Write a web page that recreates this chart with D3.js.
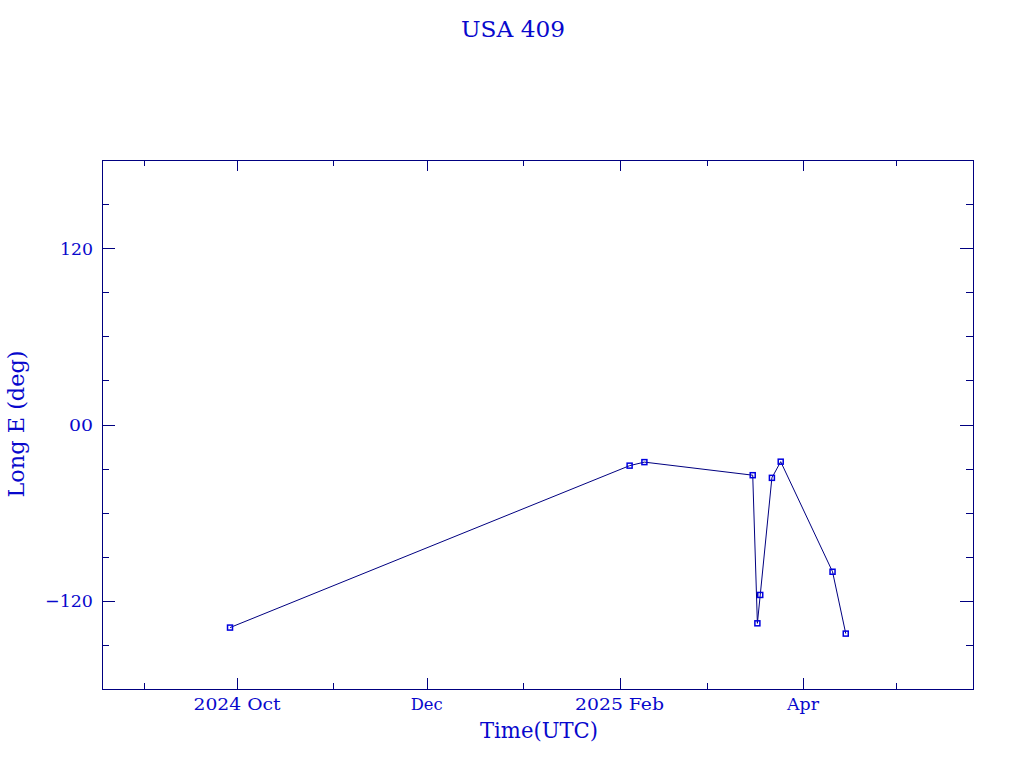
<!DOCTYPE html>
<html><head><meta charset="utf-8">
<script src="https://cdn.jsdelivr.net/npm/d3@7"></script>
<style>body{margin:0;background:#fff;}</style>
</head><body>
<svg id="c" width="1024" height="768"></svg>
<script>
const titleText = "USA 409";
const xLabel = "Time(UTC)";
const yLabel = "Long E (deg)";
const dates = ["2024-09-28T18:00Z","2025-02-04T06:00Z","2025-02-09T00:00Z","2025-03-15T20:00Z","2025-03-17T08:00Z","2025-03-18T06:00Z","2025-03-22T00:00Z","2025-03-24T20:00Z","2025-04-10T12:00Z","2025-04-14T18:00Z"];
const lons = [-138.2, -28.0, -25.6, -34.5, -135.3, -116.0, -36.3, -25.3, -100.2, -142.3];
const xDomain = ["2024-08-18T14:00Z","2025-05-25T16:00Z"];
const yDomain = [-180, 180];
const xMajorTicks = ["2024-10-01T00:00Z","2024-12-01T00:00Z","2025-02-01T00:00Z","2025-04-01T00:00Z"];
const xMajorLabels = ["2024 Oct","Dec","2025 Feb","Apr"];
const xMinorTicks = ["2024-09-01T00:00Z","2024-11-01T00:00Z","2025-01-01T00:00Z","2025-03-01T00:00Z","2025-05-01T00:00Z"];
const yMajorTicks = [120, 0, -120];
const yMajorLabels = ["120","00","\u2212120"];
const yMinorTicks = [150, 90, 60, 30, -30, -60, -90, -150];

const axisColor = "#000080", textColor = "#0808cc", markColor = "#0000e0";
const L = 102, R = 973, T = 160, B = 689;
const svg = d3.select("#c");
const x = d3.scaleUtc().domain(xDomain.map(d=>new Date(d))).range([L, R]);
const y = d3.scaleLinear().domain(yDomain).range([B, T]);
const font = "'DejaVu Serif',serif";

function txt(str, px, py, size, len, anchor) {
  return svg.append("text").attr("x",px).attr("y",py).attr("text-anchor",anchor||"middle")
    .attr("font-family",font).attr("font-size",size).attr("fill",textColor)
    .attr("textLength",len).attr("lengthAdjust","spacingAndGlyphs").text(str);
}

svg.append("rect").attr("x",L+0.5).attr("y",T+0.5).attr("width",R-L).attr("height",B-T)
  .attr("fill","none").attr("stroke",axisColor).attr("stroke-width",1);

const g = svg.append("g").attr("stroke",axisColor).attr("stroke-width",1);
const maj = 11, mnr = 6;
xMajorTicks.forEach(d=>{const px=Math.round(x(new Date(d)))+0.5;
  g.append("line").attr("x1",px).attr("x2",px).attr("y1",B).attr("y2",B-maj);
  g.append("line").attr("x1",px).attr("x2",px).attr("y1",T).attr("y2",T+maj);});
xMinorTicks.forEach(d=>{const px=Math.round(x(new Date(d)))+0.5;
  g.append("line").attr("x1",px).attr("x2",px).attr("y1",B).attr("y2",B-mnr);
  g.append("line").attr("x1",px).attr("x2",px).attr("y1",T).attr("y2",T+mnr);});
yMajorTicks.forEach(v=>{const py=Math.round(y(v))+0.5;
  g.append("line").attr("x1",L).attr("x2",L+13).attr("y1",py).attr("y2",py);
  g.append("line").attr("x1",R).attr("x2",R-13).attr("y1",py).attr("y2",py);});
yMinorTicks.forEach(v=>{const py=Math.round(y(v))+0.5;
  g.append("line").attr("x1",L).attr("x2",L+7).attr("y1",py).attr("y2",py);
  g.append("line").attr("x1",R).attr("x2",R-7).attr("y1",py).attr("y2",py);});

const xLens = [87, 32, 89, 32];
xMajorTicks.forEach((d,i)=>{ txt(xMajorLabels[i], x(new Date(d)), B+21, 17.5, xLens[i]); });
const yLens = [33, 24, 48];
yMajorTicks.forEach((v,i)=>{ txt(yMajorLabels[i], L-9, y(v)+6.5, 17.5, yLens[i], "end"); });

txt(titleText, 513, 37, 23, 104);
txt(xLabel, 539, 738, 22, 118);
svg.append("text").attr("transform","translate(24,424) rotate(-90)").attr("text-anchor","middle")
  .attr("font-family",font).attr("font-size",22).attr("fill",textColor)
  .attr("textLength",147).attr("lengthAdjust","spacingAndGlyphs").text(yLabel);

const pts = dates.map((d,i)=>({t:new Date(d), v:lons[i]}));
svg.append("path").datum(pts).attr("fill","none").attr("stroke",axisColor).attr("stroke-width",1)
  .attr("d", d3.line().x(d=>x(d.t)).y(d=>y(d.v)));
svg.selectAll("rect.m").data(pts).enter().append("rect").attr("class","m")
  .attr("x",d=>x(d.t)-2.5).attr("y",d=>y(d.v)-2.5).attr("width",5).attr("height",5)
  .attr("fill","none").attr("stroke",markColor).attr("stroke-width",1.5);
</script>
</body></html>
